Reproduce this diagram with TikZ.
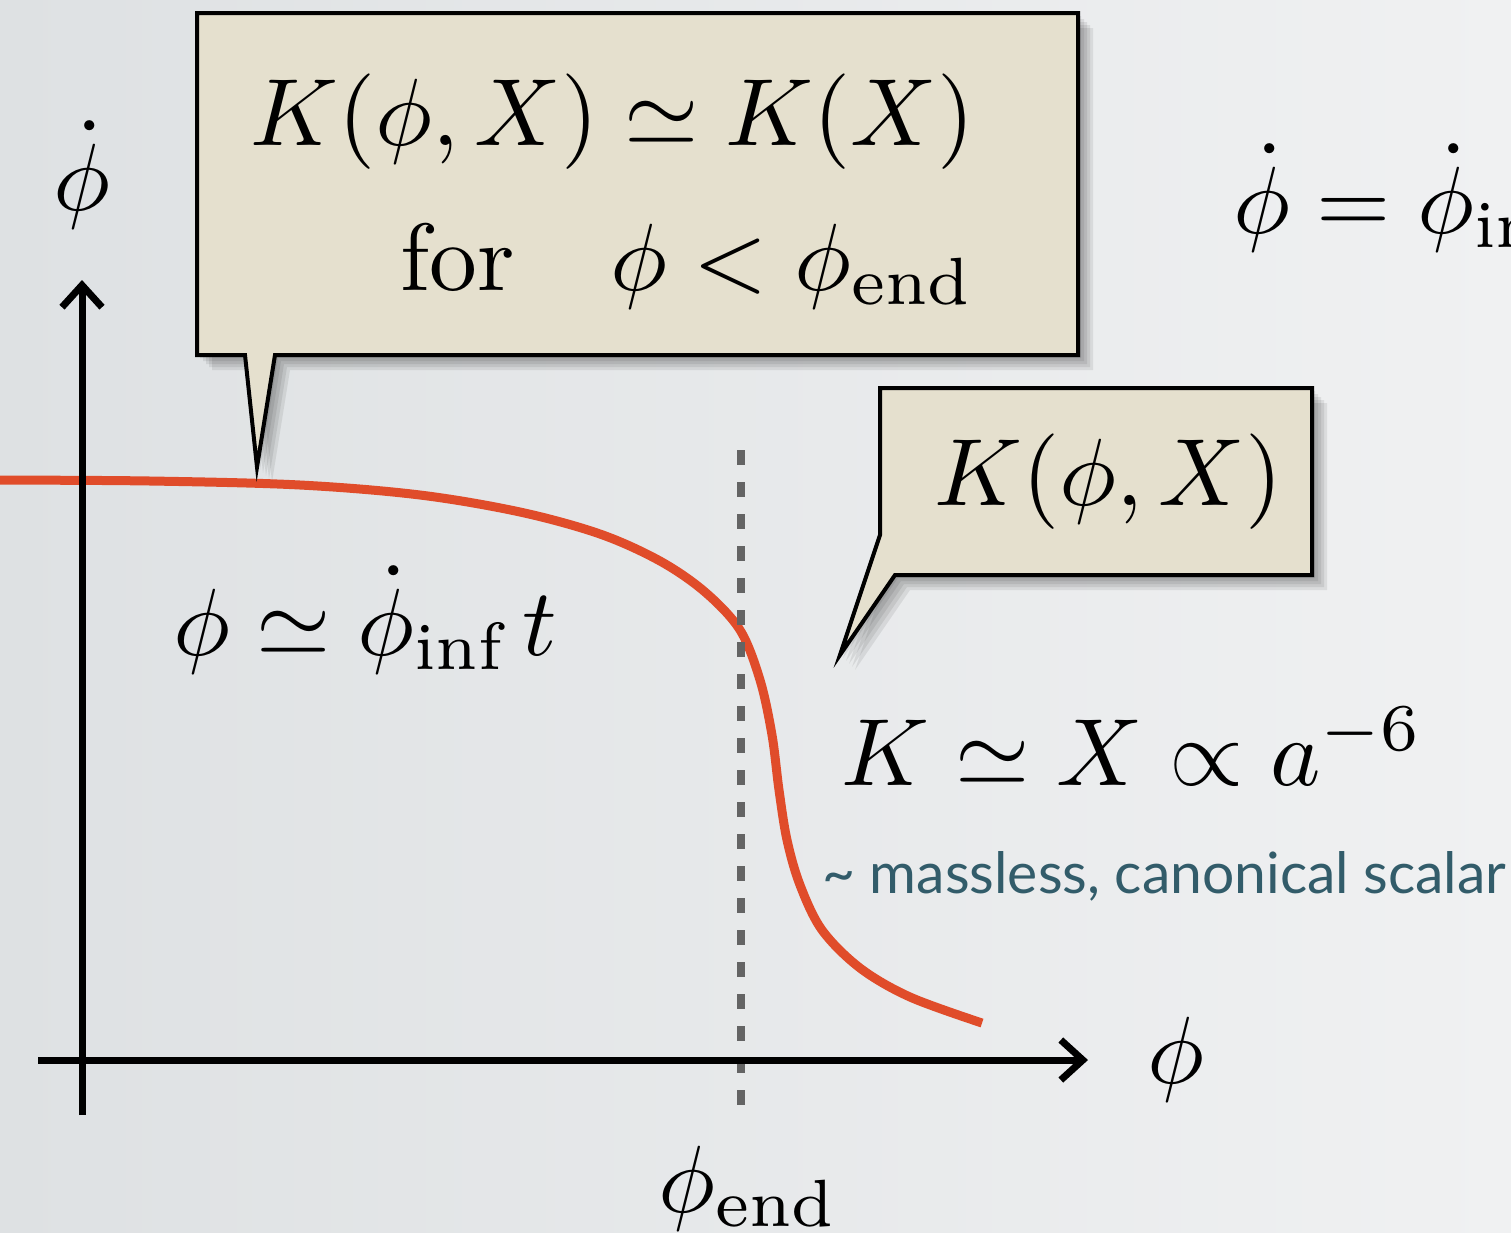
\RequirePackage{fix-cm}
\documentclass[tikz,border=0pt]{standalone}
\usepackage{fontspec}
\usepackage{graphicx}
\newfontfamily\gillfont{Lato}
\usetikzlibrary{arrows.meta}
\definecolor{bgL}{RGB}{222,225,227}
\definecolor{bgR}{RGB}{240,241,242}
\definecolor{boxfill}{RGB}{229,224,206}
\definecolor{curvered}{RGB}{224,76,42}
\definecolor{dashgray}{RGB}{100,100,100}
\definecolor{tealtext}{RGB}{50,92,106}
\newcommand\BigMath[1]{\scalebox{9.55}{#1}}
\tikzset{
  axisline/.style={line width=7pt,black},
  axistip/.style={-{Straight Barb[length=22pt,width=40pt]}},
  callbox/.style={fill=boxfill,draw=black,line width=4pt,line join=miter},
  callshadow/.style={fill=black,opacity=0.08},
  mathlabel/.style={inner sep=0pt,font=\fontsize{10}{12}\selectfont},
  smalllabel/.style={inner sep=0pt,font=\fontsize{57}{64}\selectfont\gillfont,text=tealtext},
}
\begin{document}
\begin{tikzpicture}[x=1pt,y=-1pt]
\useasboundingbox (0,0) rectangle (1511,1232);
\clip (0,0) rectangle (1511,1232);
\shade[left color=bgL,right color=bgR] (0,0) rectangle (1511,1232);

% red curve
\draw[curvered,line width=9pt,line cap=butt] plot[smooth,tension=0.55] coordinates {
 (-5,480) (150,481) (300,485) (420,495) (520,512) (600,534) (660,561) (705,592)
 (740,630) (760,680) (772,735) (779,790) (787,840) (800,885) (822,930) (860,968)
 (910,997) (982,1023)};

% dashed line
\coordinate (dT) at (741,450);
\coordinate (dB) at (741,1105);
\draw[dashgray,line width=8pt,dash pattern=on 15pt off 17pt] (dT) -- (dB);

% axes
\coordinate (yaxB) at (82,1115);
\coordinate (yaxT) at (82,280);
\coordinate (xaxL) at (38,1060);
\coordinate (xaxR) at (1088,1060);
\draw[axisline,axistip] (yaxB) -- (yaxT);
\draw[axisline,axistip] (xaxL) -- (xaxR);

% callout 1 shadow + box
\foreach \d in {3,6,9,12,15}{
  \begin{scope}[shift={(\d,\d)}]
  \fill[callshadow] (197,13) -- (1078,13) -- (1078,355) -- (275,355) -- (257,467) -- (245,355) -- (197,355) -- cycle;
  \end{scope}}
\draw[callbox] (197,13) -- (1078,13) -- (1078,355) -- (275,355) -- (257,467) -- (245,355) -- (197,355) -- cycle;
% callout 2 shadow + box
\foreach \d in {3,6,9,12,15}{
  \begin{scope}[shift={(\d,\d)}]
  \fill[callshadow] (880,388) -- (1312,388) -- (1312,575) -- (895,575) -- (840,655) -- (880,535) -- cycle;
  \end{scope}}
\draw[callbox] (880,388) -- (1312,388) -- (1312,575) -- (895,575) -- (840,655) -- (880,535) -- cycle;

% texts
\node[mathlabel,anchor=base west] (b1a) at (250,145) {\BigMath{$K(\phi,X)\simeq K(X)$}};
\node[mathlabel,anchor=base west] (b1b) at (400,290) {\BigMath{$\mathrm{for}\quad \phi<\phi_{\mathrm{end}}$}};
\node[mathlabel,anchor=base west] (b2) at (934,505) {\BigMath{$K(\phi,X)$}};
\node[mathlabel,anchor=base west] (phidot) at (1233,233) {\BigMath{$\dot\phi=\dot\phi_{\mathrm{inf}}$}};
\node[mathlabel,anchor=base] (ylab) at (82,210) {\BigMath{$\dot\phi$}};
\node[mathlabel,anchor=base] (xlab) at (1176,1083) {\BigMath{$\phi$}};
\node[mathlabel,anchor=base west] (phiend) at (658,1212) {\BigMath{$\phi_{\mathrm{end}}$}};
\node[mathlabel,anchor=base west] (slow) at (173,655) {\BigMath{$\phi\simeq\dot\phi_{\mathrm{inf}}\,t$}};
\node[mathlabel,anchor=base west] (kin) at (841,785) {\BigMath{$K\simeq X\propto a^{-6}$}};
\node[smalllabel,anchor=base west] (mless) at (822,893) {\char"007E{} massless, canonical scalar};
\end{tikzpicture}
\end{document}
